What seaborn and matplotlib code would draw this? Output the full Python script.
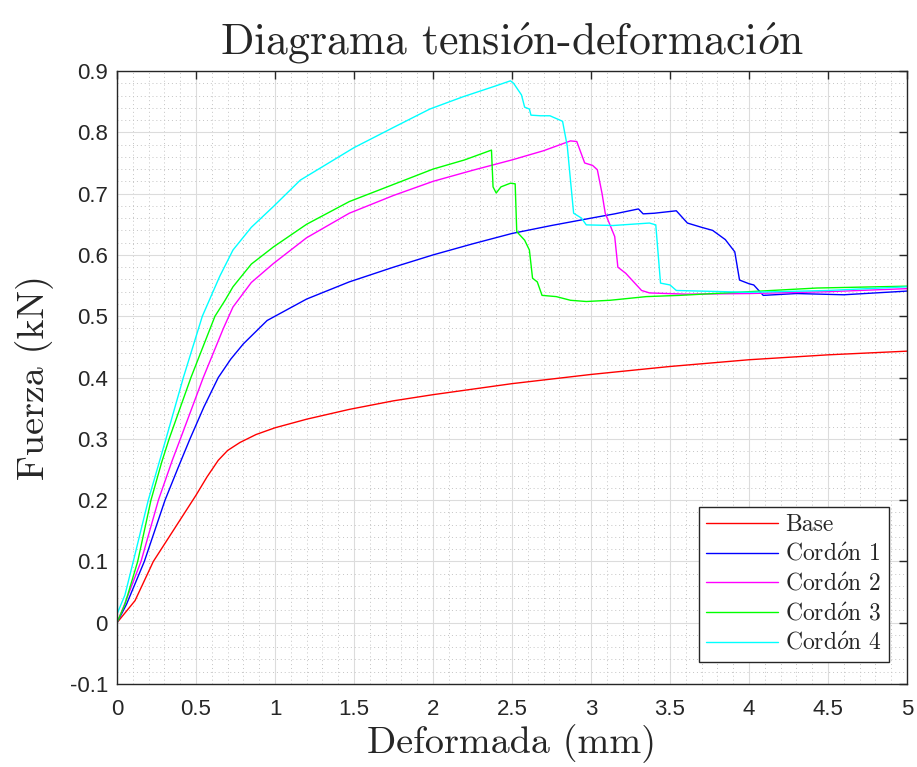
import pandas as pd
import matplotlib
matplotlib.use('Agg')
import matplotlib.pyplot as plt
import seaborn as sns
from matplotlib.ticker import MultipleLocator, FuncFormatter

base_x = [0, 0.114, 0.23, 0.33, 0.42, 0.5, 0.57, 0.641, 0.7, 0.778, 0.88, 1.0,
          1.2, 1.47, 1.75, 2.0, 2.5, 3.0, 3.5, 4.0, 4.5, 5.0]
base_y = [0, 0.036, 0.1, 0.14, 0.176, 0.208, 0.238, 0.265, 0.281, 0.294, 0.307, 0.318,
          0.332, 0.348, 0.362, 0.372, 0.39, 0.405, 0.418, 0.429, 0.437, 0.443]

c1_x = [0, 0.06, 0.173, 0.304, 0.39, 0.462, 0.55, 0.641, 0.72, 0.8, 0.95, 1.2, 1.47, 1.75, 2.0, 2.25,
        2.5, 2.75, 3.0, 3.15, 3.3, 3.33, 3.4, 3.54, 3.61, 3.7, 3.77, 3.85, 3.91, 3.94, 4.0, 4.03,
        4.09, 4.3, 4.6, 5.0]
c1_y = [0, 0.03, 0.1, 0.2, 0.255, 0.3, 0.352, 0.4, 0.43, 0.455, 0.493, 0.528, 0.556, 0.58, 0.6, 0.618,
        0.635, 0.648, 0.66, 0.667, 0.675, 0.667, 0.668, 0.672, 0.652, 0.645, 0.64, 0.625, 0.605, 0.559, 0.553, 0.551,
        0.534, 0.537, 0.535, 0.541]

c2_x = [0, 0.04, 0.152, 0.262, 0.35, 0.41, 0.546, 0.673, 0.734, 0.85, 0.99, 1.2, 1.47, 1.75, 2.0,
        2.25, 2.5, 2.7, 2.87, 2.91, 2.93, 2.96, 3.01, 3.04, 3.07, 3.09, 3.15, 3.17, 3.22, 3.32, 3.37,
        3.6, 4.0, 4.5, 5.0]
c2_y = [0, 0.025, 0.1, 0.2, 0.265, 0.306, 0.4, 0.48, 0.515, 0.555, 0.586, 0.628, 0.668, 0.697, 0.72,
        0.738, 0.755, 0.77, 0.786, 0.785, 0.771, 0.75, 0.746, 0.739, 0.7, 0.668, 0.63, 0.58, 0.57, 0.542, 0.538,
        0.536, 0.537, 0.54, 0.545]

c3_x = [0, 0.05, 0.131, 0.215, 0.283, 0.33, 0.468, 0.62, 0.684, 0.734, 0.85, 0.99, 1.2, 1.47, 1.75, 2.0,
        2.2, 2.37, 2.38, 2.4, 2.43, 2.49, 2.52, 2.53, 2.58, 2.61, 2.63, 2.66, 2.69, 2.78, 2.87, 2.97,
        3.12, 3.35, 3.56, 4.0, 4.43, 5.0]
c3_y = [0, 0.03, 0.1, 0.2, 0.262, 0.3, 0.4, 0.5, 0.526, 0.548, 0.585, 0.613, 0.65, 0.687, 0.715, 0.74,
        0.755, 0.771, 0.711, 0.701, 0.711, 0.717, 0.716, 0.638, 0.624, 0.608, 0.562, 0.556, 0.534, 0.532, 0.526, 0.524,
        0.526, 0.532, 0.534, 0.54, 0.546, 0.549]

c4_x = [0, 0.05, 0.103, 0.198, 0.31, 0.42, 0.54, 0.584, 0.65, 0.734, 0.85, 0.99, 1.16, 1.5, 1.75, 1.98,
        2.19, 2.4, 2.49, 2.51, 2.56, 2.58, 2.61, 2.62, 2.68, 2.74, 2.82, 2.85, 2.87, 2.89, 2.94, 2.97,
        3.14, 3.37, 3.41, 3.44, 3.5, 3.54, 4.0, 4.5, 5.0]
c4_y = [0.014, 0.045, 0.1, 0.2, 0.3, 0.4, 0.5, 0.526, 0.565, 0.608, 0.645, 0.679, 0.722, 0.775, 0.808, 0.838,
        0.858, 0.876, 0.884, 0.88, 0.861, 0.841, 0.838, 0.828, 0.827, 0.827, 0.818, 0.777, 0.722, 0.668, 0.66, 0.649,
        0.648, 0.652, 0.649, 0.554, 0.551, 0.542, 0.539, 0.542, 0.548]

labels = ['Base', r'Cord$\acute{o}$n 1', r'Cord$\acute{o}$n 2', r'Cord$\acute{o}$n 3', r'Cord$\acute{o}$n 4']
colors = ['#ff0000', '#0000ff', '#ff00ff', '#00ff00', '#00ffff']

def buildFrame():
    parts = []
    for lab, xs, ys in zip(labels, [base_x, c1_x, c2_x, c3_x, c4_x], [base_y, c1_y, c2_y, c3_y, c4_y]):
        parts.append(pd.DataFrame({'x': xs, 'y': ys, 'serie': lab}))
    return pd.concat(parts, ignore_index=True)

def main():
    sns.set_style('white')
    plt.rcParams['mathtext.fontset'] = 'cm'
    plt.rcParams['font.family'] = ['Liberation Sans', 'DejaVu Sans']
    serif = {'family': 'cmr10'}

    data = buildFrame()
    fig = plt.figure(figsize=(9.17, 7.67), dpi=100)
    ax = fig.add_axes([0.1276, 0.1082, 0.8615, 0.7992])

    sns.lineplot(data=data, x='x', y='y', hue='serie', hue_order=labels, palette=colors,
                 estimator=None, sort=False, linewidth=1.0, ax=ax)

    ax.set_xlim(0, 5)
    ax.set_ylim(-0.1, 0.9)
    ax.xaxis.set_major_locator(MultipleLocator(0.5))
    ax.yaxis.set_major_locator(MultipleLocator(0.1))
    ax.xaxis.set_minor_locator(MultipleLocator(0.1))
    ax.yaxis.set_minor_locator(MultipleLocator(0.02))
    fmt = FuncFormatter(lambda v, p: '%g' % round(v, 3))
    ax.xaxis.set_major_formatter(fmt)
    ax.yaxis.set_major_formatter(fmt)

    ax.grid(which='major', color='#dcdcdc', linewidth=0.8)
    ax.grid(which='minor', color='#c4c4c4', linewidth=0.7, linestyle=(0, (1, 3)))
    ax.set_axisbelow(True)
    ax.tick_params(which='major', direction='in', length=5.5, width=1, color='#262626',
                   top=True, right=True, labelsize=16, labelcolor='#262626')
    ax.tick_params(axis='x', which='major', pad=11)
    ax.tick_params(axis='y', which='major', pad=6.5)
    ax.tick_params(which='minor', length=0)
    for sp in ax.spines.values():
        sp.set_color('#262626')
        sp.set_linewidth(1.0)

    ax.set_title(r'Diagrama tensi$\acute{o}$n-deformaci$\acute{o}$n', fontsize=31.5, pad=12, **serif)
    ax.set_xlabel('Deformada (mm)', fontsize=27.5, labelpad=3, **serif)
    ax.set_ylabel('Fuerza (kN)', fontsize=27.5, labelpad=11, **serif)

    handles, _ = ax.get_legend_handles_labels()
    leg = ax.legend(handles, labels, loc='lower right', bbox_to_anchor=(0.977, 0.036), borderaxespad=0,
                    fancybox=False, edgecolor='#262626', framealpha=1, handlelength=3.05,
                    handletextpad=0.3, prop={'family': 'cmr10', 'size': 17}, labelspacing=0.3,
                    borderpad=0.3)
    leg.get_frame().set_linewidth(1.0)

    fig.savefig('out.png', dpi=100)

if __name__ == '__main__':
    main()
